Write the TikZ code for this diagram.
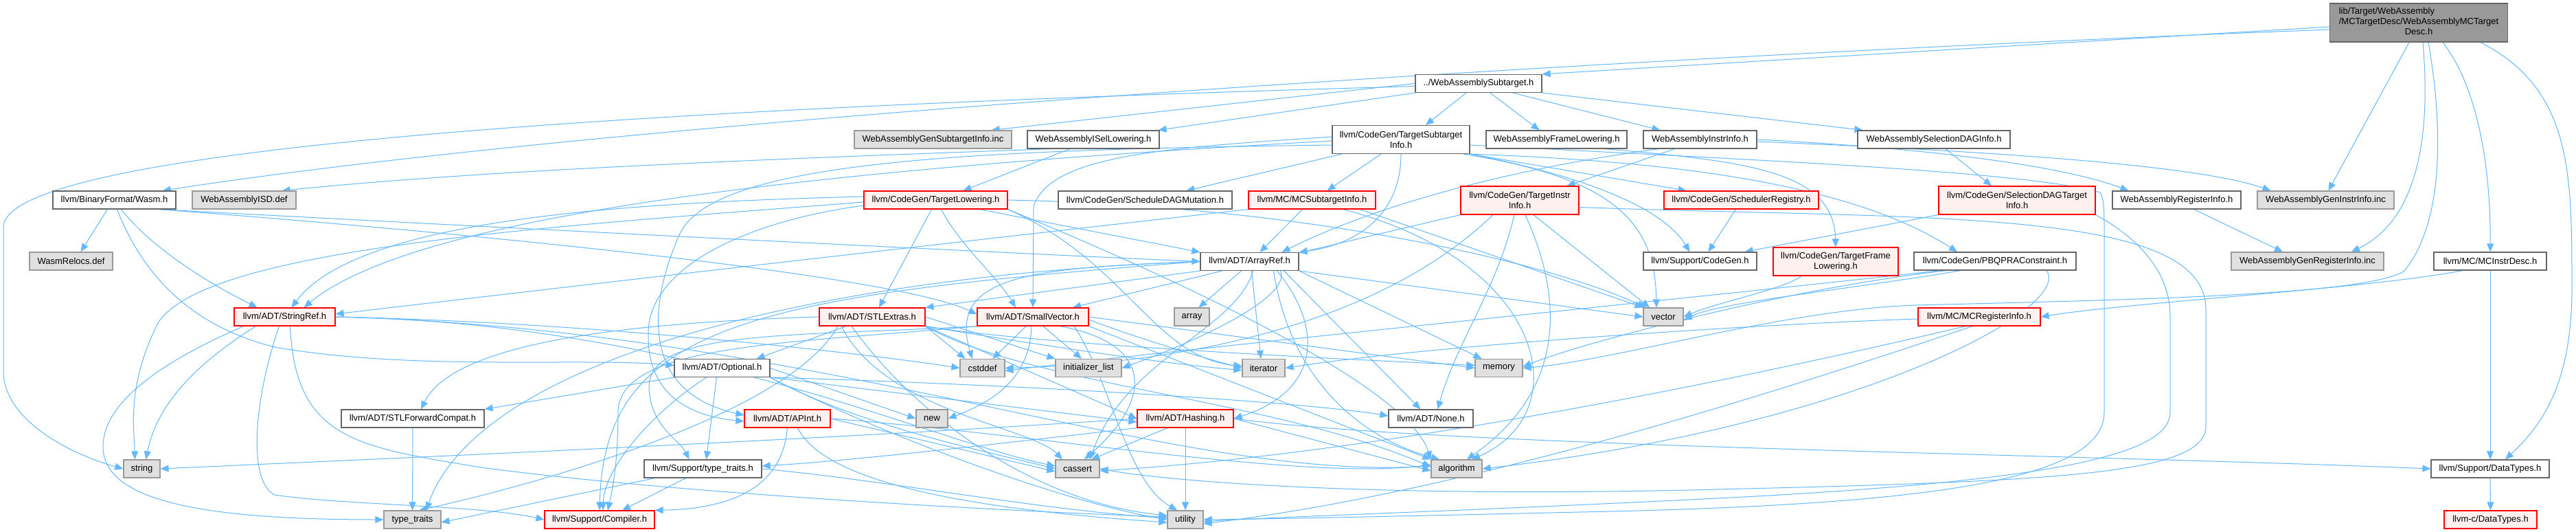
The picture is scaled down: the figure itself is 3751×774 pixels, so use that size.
\documentclass[tikz,border=0pt]{standalone}
\usepackage{fontspec}
\setmainfont{Liberation Sans}
\usetikzlibrary{arrows.meta}
\definecolor{edgec}{HTML}{63B8FF}
\definecolor{bordg}{HTML}{666666}
\definecolor{bordl}{HTML}{999999}
\definecolor{fillg}{HTML}{E0E0E0}
\definecolor{fillr}{HTML}{FFF0F0}
\definecolor{rootf}{HTML}{999999}
\newcommand\nodefont{\fontsize{13bp}{15bp}\selectfont}
\pgfdeclarelayer{bg}
\pgfdeclarelayer{paper}
\pgfsetlayers{paper,bg,main}
\tikzset{
  nb/.style={draw=bordg, fill=white, line width=1.2bp, minimum height=26bp, inner sep=0pt, font=\nodefont, align=center},
  gb/.style={nb, draw=bordl, fill=fillg},
  rb/.style={nb, draw=red, fill=fillr},
  two/.style={minimum height=41bp},
  e/.style={draw=edgec, line width=1bp, -{Triangle[length=12bp,width=10bp]}},
}
\begin{document}
\begin{tikzpicture}[x=1bp,y=-1bp]
\begin{pgfonlayer}{paper}
\fill[white] (0,0) rectangle (3751,774);
\end{pgfonlayer}
\useasboundingbox (0,0) rectangle (3751,774);
% row 0
\node[nb, fill=rootf, minimum width=259bp, minimum height=56bp] (root) at (3522,33) {\begin{tabular}{@{}l@{}}lib/Target/WebAssembly\\/MCTargetDesc/WebAssemblyMCTarget\\\multicolumn{1}{@{}c@{}}{Desc.h}\end{tabular}};
% row 1
\node[nb, minimum width=184bp] (sub) at (2153,121.5) {../WebAssemblySubtarget.h};
% row 2
\node[gb, minimum width=229bp] (gensub) at (1358.5,203) {WebAssemblyGenSubtargetInfo.inc};
\node[nb, minimum width=192bp] (isel) at (1592,203) {WebAssemblyISelLowering.h};
\node[nb, two, minimum width=200bp] (tsi) at (2040,203) {llvm/CodeGen/TargetSubtarget\\Info.h};
\node[nb, minimum width=205bp] (frame) at (2266.5,203) {WebAssemblyFrameLowering.h};
\node[nb, minimum width=165bp] (instr) at (2475.5,203) {WebAssemblyInstrInfo.h};
\node[nb, minimum width=222bp] (seldag) at (2816,203) {WebAssemblySelectionDAGInfo.h};
% row 3
\node[nb, minimum width=179bp] (wasm) at (166.5,291) {llvm/BinaryFormat/Wasm.h};
\node[gb, minimum width=151bp] (isd) at (355.5,291) {WebAssemblyISD.def};
\node[rb, minimum width=209bp] (tlow) at (1362.5,291) {llvm/CodeGen/TargetLowering.h};
\node[nb, minimum width=253bp] (sdm) at (1667.5,291) {llvm/CodeGen/ScheduleDAGMutation.h};
\node[rb, minimum width=185bp] (mcsub) at (1910.5,291) {llvm/MC/MCSubtargetInfo.h};
\node[rb, two, minimum width=172bp] (tii) at (2213,291.5) {llvm/CodeGen/TargetInstr\\Info.h};
\node[rb, minimum width=225bp] (schedreg) at (2535.5,291) {llvm/CodeGen/SchedulerRegistry.h};
\node[rb, two, minimum width=228bp] (sdti) at (2937,291.5) {llvm/CodeGen/SelectionDAGTarget\\Info.h};
\node[nb, minimum width=187bp] (reginfo) at (3169.5,291) {WebAssemblyRegisterInfo.h};
\node[gb, minimum width=199bp] (geninstr) at (3386.5,291) {WebAssemblyGenInstrInfo.inc};
% row 4
\node[gb, minimum width=121bp] (relocs) at (103.5,380) {WasmRelocs.def};
\node[nb, minimum width=143bp] (arrayref) at (1819.5,380.5) {llvm/ADT/ArrayRef.h};
\node[nb, minimum width=165bp] (codegen) at (2475.5,380) {llvm/Support/CodeGen.h};
\node[rb, two, minimum width=182bp] (tfl) at (2673,380.5) {llvm/CodeGen/TargetFrame\\Lowering.h};
\node[nb, minimum width=236bp] (pbqp) at (2905,380) {llvm/CodeGen/PBQPRAConstraint.h};
\node[gb, minimum width=222bp] (genreg) at (3360,380) {WebAssemblyGenRegisterInfo.inc};
\node[nb, minimum width=164bp] (mcid) at (3626,380) {llvm/MC/MCInstrDesc.h};
% row 5
\node[rb, minimum width=147bp] (stringref) at (414.5,461) {llvm/ADT/StringRef.h};
\node[rb, minimum width=154bp] (stlextras) at (1270,461) {llvm/ADT/STLExtras.h};
\node[rb, minimum width=162bp] (smallvec) at (1504,461) {llvm/ADT/SmallVector.h};
\node[gb, minimum width=51bp] (array) at (1735.5,461) {array};
\node[gb, minimum width=58bp] (vector) at (2422,461) {vector};
\node[rb, minimum width=178bp] (mcreg) at (2882,461) {llvm/MC/MCRegisterInfo.h};
% row 6
\node[nb, minimum width=139bp] (optional) at (1051.5,535.5) {llvm/ADT/Optional.h};
\node[gb, minimum width=65bp] (cstddef) at (1430.5,535.5) {cstddef};
\node[gb, minimum width=96bp] (initlist) at (1585,535.5) {initializer\_list};
\node[gb, minimum width=62bp] (iterator) at (1840,535.5) {iterator};
\node[gb, minimum width=69bp] (memory) at (2182.5,535.5) {memory};
% row 7
\node[nb, minimum width=208bp] (stlfwd) at (601,609) {llvm/ADT/STLForwardCompat.h};
\node[gb, minimum width=46bp] (new) at (1357,609) {new};
\node[rb, minimum width=125bp] (apint) at (1146.5,609) {llvm/ADT/APInt.h};
\node[rb, minimum width=140bp] (hashing) at (1726,609) {llvm/ADT/Hashing.h};
\node[nb, minimum width=123bp] (none) at (2083.5,609) {llvm/ADT/None.h};
% row 8
\node[gb, minimum width=53bp] (string) at (206.5,682) {string};
\node[nb, minimum width=171bp] (sttraits) at (1023.5,682) {llvm/Support/type\_traits.h};
\node[gb, minimum width=64bp] (cassert) at (1569,682) {cassert};
\node[gb, minimum width=74bp] (algorithm) at (2121,682) {algorithm};
\node[nb, minimum width=172bp] (datatypes) at (3626,682) {llvm/Support/DataTypes.h};
% row 9
\node[gb, minimum width=83bp] (typetraits) at (600.5,756) {type\_traits};
\node[rb, minimum width=160bp] (compiler) at (873,756) {llvm/Support/Compiler.h};
\node[gb, minimum width=52bp] (utility) at (1726,756) {utility};
\node[rb, minimum width=135bp] (cdatatypes) at (3626.5,756) {llvm-c/DataTypes.h};

\begin{pgfonlayer}{bg}
% root
\draw[e] ([yshift=-6bp]root.west) -- (sub.north east);
\draw[e] ([yshift=-10bp]root.west) .. controls (2300,85) and (900,175) .. ([xshift=-20bp]wasm.north east);
\draw[e] ([xshift=-14bp]root.south) -- ([xshift=4bp]geninstr.north);
\draw[e] ([xshift=6bp]root.south) .. controls (3540,200) and (3520,320) .. (genreg.12);
\draw[e] ([xshift=14bp]root.south) .. controls (3560,200) and (3555,330) .. (3500,395) .. controls (3440,430) and (3100,436) .. (2790,444) .. controls (2600,450) and (2350,525) .. (memory.east);
\draw[e] ([xshift=35bp]root.south) .. controls (3610,130) and (3627,250) .. (mcid.north);
\draw[e] ([xshift=90bp]root.south) .. controls (3745,130) and (3745,250) .. (3745,420) .. controls (3745,560) and (3700,620) .. ([xshift=22bp]datatypes.north);
% subtarget
\draw[e] (sub.west) -- ([xshift=-30bp]gensub.north east);
\draw[e] (sub.south west) -- ([xshift=-2bp]isel.north east);
\draw[e] ([xshift=-18bp]sub.south) -- ([xshift=36bp]tsi.north);
\draw[e] ([xshift=17bp]sub.south) -- ([xshift=-25bp]frame.north);
\draw[e] ([xshift=50bp]sub.south) -- ([xshift=-58bp]instr.north);
\draw[e] (sub.south east) -- ([xshift=8bp]seldag.north west);
\draw[e] ([yshift=-4bp]sub.west) .. controls (1200,150) and (10,200) .. (5,330) -- (5,540) .. controls (5,610) and (100,660) .. (string.west);
% isel
\draw[e] ([xshift=-60bp]isel.south) .. controls (1100,232) and (700,248) .. ([xshift=55bp]isd.north);
\draw[e] ([xshift=-34bp]isel.south) -- ([xshift=40bp]tlow.north);
% tsi
\draw[e] ([xshift=-86bp]tsi.south) -- ([xshift=60bp]sdm.north);
\draw[e] ([xshift=-29bp]tsi.south) -- ([xshift=22bp]mcsub.north);
\draw[e] (tsi.south) .. controls (2040,310) and (1980,355) .. (arrayref.north east);
\draw[e] ([yshift=4bp]tsi.west) .. controls (1700,215) and (1530,225) .. (1505,300) -- (smallvec.north);
\draw[e] ([yshift=-2bp]tsi.west) .. controls (1300,240) and (620,300) .. ([xshift=28bp]stringref.north);
\draw[e] (tsi.south east) -- ([xshift=-80bp]schedreg.north);
\draw[e] (tsi.south east) .. controls (2300,255) and (2420,300) .. ([xshift=-15bp]codegen.north);
\draw[e] (tsi.south east) .. controls (2450,235) and (2700,270) .. ([xshift=-55bp]pbqp.north);
\draw[e] ([yshift=-8bp]tsi.west) .. controls (1400,218) and (1040,235) .. (990,340) .. controls (945,440) and (930,570) .. ([yshift=5bp]apint.west);
\draw[e] ([xshift=-10bp]tsi.south east) .. controls (2360,260) and (2410,330) .. ([xshift=-10bp]vector.north);
\draw[e] ([yshift=-8bp]tsi.east) .. controls (2600,235) and (2950,250) .. (3058,280) .. controls (3064,290) and (3064,305) .. (3064,340) -- (3064,600) .. controls (3064,700) and (2800,735) .. (2300,745) .. controls (2000,752) and (1850,755) .. (utility.east);
% frame / instr / seldag / reginfo
\draw[e] ([xshift=70bp]frame.south) .. controls (2550,235) and (2670,250) .. (tfl.north);
\draw[e] ([xshift=-37bp]instr.south) -- ([xshift=-18bp]tii.north east);
\draw[e] ([xshift=-60bp]instr.south) .. controls (2200,245) and (2000,300) .. ([xshift=-25bp]arrayref.north east);
\draw[e] (instr.east) .. controls (2800,215) and (3000,240) .. ([xshift=-70bp]reginfo.north);
\draw[e] ([yshift=-3bp]instr.east) .. controls (2900,220) and (3200,240) .. ([xshift=-80bp]geninstr.north);
\draw[e] ([xshift=17bp]seldag.south) -- ([xshift=-37bp]sdti.north);
\draw[e] ([xshift=25bp]reginfo.south) -- ([xshift=-36bp]genreg.north);
% sdti, schedreg
\draw[e] (sdti.south west) -- ([xshift=-18bp]codegen.north east);
\draw[e] (sdti.south east) .. controls (3120,350) and (3160,400) .. (3160,460) -- (3160,600) .. controls (3160,660) and (3000,700) .. (2500,725) .. controls (2100,745) and (1850,752) .. ([yshift=-3bp]utility.east);
\draw[e] ([xshift=-8bp]schedreg.south) -- ([xshift=12bp]codegen.north);
% tii
\draw[e] (tii.south west) -- (arrayref.10);
\draw[e] ([xshift=-8bp]tii.south) .. controls (2180,420) and (2120,500) .. ([xshift=10bp]none.north);
\draw[e] ([xshift=8bp]tii.south) .. controls (2270,420) and (2290,560) .. ([xshift=15bp]algorithm.north);
\draw[e] ([xshift=20bp]tii.south) -- ([xshift=-20bp]vector.north);
\draw[e] ([xshift=-39bp]tii.south) .. controls (2000,480) and (1700,530) .. (cstddef.east);
\draw[e] ([yshift=-10bp]tii.east) .. controls (2800,320) and (3212,300) .. (3212,450) -- (3212,620) .. controls (3212,690) and (3000,700) .. (2500,712) .. controls (2000,725) and (1700,700) .. (cassert.east);
% mcsub
\draw[e] ([xshift=-14bp]mcsub.south) -- ([xshift=15bp]arrayref.north);
\draw[e] (mcsub.south west) .. controls (1500,340) and (800,420) .. ([yshift=4bp]stringref.east);
\draw[e] ([xshift=45bp]mcsub.south) .. controls (2250,380) and (2300,600) .. ([xshift=22bp]algorithm.north);
\draw[e] ([xshift=70bp]mcsub.south) -- (vector.north west);
% tlow
\draw[e] ([xshift=64bp]tlow.south) -- (arrayref.north west);
\draw[e] ([xshift=-6bp]tlow.south) -- ([xshift=10bp]stlextras.north);
\draw[e] ([xshift=8bp]tlow.south) .. controls (1400,360) and (1450,400) .. ([xshift=-25bp]smallvec.north);
\draw[e] ([yshift=5bp]tlow.west) .. controls (900,295) and (520,320) .. ([xshift=10bp]stringref.north);
\draw[e] ([yshift=-3bp]tlow.west) .. controls (800,330) and (300,360) .. (230,470) .. controls (185,560) and (195,620) .. ([xshift=-10bp]string.north);
\draw[e] ([yshift=-8bp]tlow.west) .. controls (1100,320) and (960,380) .. (945,470) .. controls (935,570) and (1000,605) .. ([yshift=-4bp]apint.west);
\draw[e] (tlow.south east) .. controls (1640,380) and (1680,520) .. ([yshift=3bp]iterator.west);
\draw[e] (tlow.east) .. controls (1900,300) and (2250,380) .. ([xshift=4bp]vector.north west);
\draw[e] (tlow.south east) .. controls (1700,400) and (2050,560) .. (algorithm.north west);
% wasm
\draw[e] ([xshift=-10bp]wasm.south) -- ([xshift=14bp]relocs.north);
\draw[e] ([xshift=4bp]wasm.south) .. controls (200,380) and (260,470) .. (400,505) .. controls (600,540) and (850,520) .. ([yshift=4bp]optional.west);
\draw[e] ([xshift=10bp]wasm.south) .. controls (220,360) and (300,410) .. ([xshift=-40bp]stringref.north);
\draw[e] ([xshift=-25bp]wasm.south east) .. controls (700,330) and (1500,370) .. (arrayref.west);
\draw[e] ([xshift=-25bp]wasm.south east) .. controls (700,340) and (1300,400) .. ([yshift=4bp]smallvec.west);
% stringref
\draw[e] ([xshift=-42bp]stringref.south) .. controls (300,520) and (230,580) .. ([xshift=6bp]string.north);
\draw[e] ([xshift=-60bp]stringref.south) .. controls (250,520) and (150,580) .. (150,650) .. controls (150,730) and (300,756) .. (typetraits.west);
\draw[e] ([xshift=-8bp]stringref.south) .. controls (370,580) and (360,700) .. (400,720) .. controls (500,735) and (700,735) .. (compiler.west);
\draw[e] (stringref.east) .. controls (900,470) and (1300,520) .. (cstddef.west);
\draw[e] (stringref.east) .. controls (1000,470) and (1350,640) .. ([yshift=4bp]cassert.west);
\draw[e] (stringref.east) .. controls (1200,480) and (1700,700) .. ([yshift=4bp]algorithm.west);
\draw[e] ([xshift=8bp]stringref.south) .. controls (430,640) and (520,650) .. (700,680) .. controls (1000,720) and (1500,745) .. ([yshift=4bp]utility.west);
% stlextras
\draw[e] ([xshift=-38bp]stlextras.south) -- ([xshift=-20bp]optional.north east);
\draw[e] (stlextras.west) .. controls (900,470) and (660,500) .. ([xshift=12bp]stlfwd.north);
\draw[e] (stlextras.south east) -- ([xshift=-25bp]cstddef.north);
\draw[e] (stlextras.east) -- (initlist.north west);
\draw[e] (stlextras.south east) .. controls (1500,500) and (1700,530) .. ([yshift=-3bp]iterator.west);
\draw[e] (stlextras.south east) -- (hashing.west);
\draw[e] ([xshift=-45bp]stlextras.south) .. controls (1290,600) and (1500,620) .. ([xshift=-22bp]cassert.north);
\draw[e] ([xshift=-30bp]stlextras.south) .. controls (1330,600) and (1500,730) .. ([yshift=6bp]utility.west);
\draw[e] ([xshift=-50bp]stlextras.south) .. controls (1150,600) and (800,700) .. ([xshift=10bp]typetraits.north);
\draw[e] (stlextras.south east) .. controls (1500,560) and (1850,580) .. ([yshift=3bp]algorithm.west);
\draw[e] (stlextras.south east) .. controls (1500,500) and (1900,520) .. ([yshift=4bp]memory.west);
% smallvec
\draw[e] (smallvec.south west) .. controls (1150,490) and (950,480) .. (945,560) .. controls (945,620) and (990,640) .. ([xshift=-20bp]sttraits.north);
\draw[e] (smallvec.south west) .. controls (1150,500) and (900,500) .. (900,600) .. controls (900,680) and (890,720) .. ([xshift=12bp]compiler.north);
\draw[e] ([xshift=-10bp]smallvec.south) -- ([xshift=15bp]cstddef.north);
\draw[e] ([xshift=15bp]smallvec.south) -- ([xshift=-10bp]initlist.north);
\draw[e] ([xshift=-2bp]smallvec.south) .. controls (1500,560) and (1430,590) .. (new.east);
\draw[e] ([xshift=40bp]smallvec.south) .. controls (1680,500) and (1680,580) .. ([xshift=10bp]cassert.north);
\draw[e] ([yshift=-4bp]smallvec.east) .. controls (1650,490) and (1750,520) .. (iterator.west);
\draw[e] (smallvec.east) -- (memory.west);
\draw[e] (smallvec.south east) -- (algorithm.north west);
\draw[e] ([xshift=60bp]smallvec.south) .. controls (1620,560) and (1640,700) .. ([xshift=-12bp]utility.north);
% optional
\draw[e] (optional.south west) -- (stlfwd.north east);
\draw[e] ([xshift=-23bp]optional.south) .. controls (950,600) and (880,680) .. ([xshift=5bp]compiler.north);
\draw[e] ([xshift=-8bp]optional.south) -- ([xshift=5bp]sttraits.north);
\draw[e] (optional.east) -- (new.west);
\draw[e] (optional.south east) .. controls (1500,560) and (1900,585) .. ([yshift=4bp]none.west);
\draw[e] (optional.south east) -- ([yshift=-5bp]hashing.west);
\draw[e] (optional.south east) .. controls (1250,620) and (1450,660) .. (cassert.west);
\draw[e] (optional.south east) .. controls (1300,640) and (1550,730) .. (utility.west);
% apint
\draw[e] (apint.south) .. controls (1140,700) and (1080,740) .. (compiler.north east);
\draw[e] (apint.east) -- ([yshift=-4bp]cassert.west);
\draw[e] ([xshift=15bp]apint.south) .. controls (1200,700) and (1400,740) .. ([yshift=-4bp]utility.west);
\draw[e] (apint.east) .. controls (1500,630) and (1900,700) .. ([yshift=6bp]algorithm.west);
% hashing
\draw[e] ([xshift=-26bp]hashing.south) -- ([xshift=20bp]cassert.north);
\draw[e] (hashing.south) -- (utility.north);
\draw[e] (hashing.west) .. controls (1200,640) and (500,670) .. (string.east);
\draw[e] (hashing.east) -- ([yshift=-3bp]algorithm.west);
\draw[e] (hashing.east) .. controls (2100,650) and (3000,660) .. (datatypes.west);
\draw[e] (hashing.south west) .. controls (1500,640) and (1250,670) .. ([yshift=4bp]sttraits.east);
% sttraits, stlfwd
\draw[e] ([xshift=-70bp]sttraits.south) -- ([yshift=-4bp]typetraits.east);
\draw[e] ([xshift=-25bp]sttraits.south) -- ([xshift=33bp]compiler.north);
\draw[e] (sttraits.east) .. controls (1300,700) and (1500,740) .. ([yshift=2bp]utility.west);
\draw[e] (stlfwd.south) -- (typetraits.north);
% arrayref
\draw[e] ([xshift=40bp]arrayref.south) .. controls (1930,480) and (1920,570) .. (hashing.east);
\draw[e] ([xshift=50bp]arrayref.south) -- ([xshift=-15bp]none.north);
\draw[e] ([xshift=-40bp]arrayref.south) -- ([xshift=58bp]smallvec.north);
\draw[e] (arrayref.south west) -- (stlextras.north east);
\draw[e] (arrayref.west) .. controls (1100,430) and (880,470) .. (compiler.north);
\draw[e] ([xshift=35bp]arrayref.south) .. controls (1880,560) and (1990,640) .. ([xshift=-25bp]algorithm.north);
\draw[e] ([xshift=-12bp]arrayref.south) -- ([xshift=10bp]array.north);
\draw[e] ([xshift=5bp]arrayref.south) .. controls (1800,480) and (1640,520) .. ([xshift=18bp]cassert.north);
\draw[e] (arrayref.west) .. controls (1500,390) and (1380,400) .. ([xshift=-15bp]cstddef.north);
\draw[e] ([xshift=45bp]arrayref.south) .. controls (1880,430) and (1760,490) .. (initlist.east);
\draw[e] ([xshift=3bp]arrayref.south) -- ([xshift=-4bp]iterator.north);
\draw[e] (arrayref.south east) -- ([xshift=-25bp]memory.north);
\draw[e] (arrayref.west) .. controls (1200,400) and (700,520) .. ([xshift=20bp]typetraits.north);
\draw[e] (arrayref.south east) -- (vector.west);
% mcid, mcreg
\draw[e] ([xshift=-40bp]mcid.south) .. controls (3450,420) and (3100,440) .. (mcreg.east);
\draw[e] (mcid.south) -- (datatypes.north);
\draw[e] ([yshift=-3bp]mcreg.west) .. controls (2600,470) and (2100,500) .. (iterator.east);
\draw[e] ([xshift=-20bp]mcreg.south) .. controls (2500,560) and (2000,660) .. ([yshift=-3bp]cassert.east);
\draw[e] ([xshift=-10bp]mcreg.south) .. controls (2500,600) and (2100,720) .. ([yshift=-6bp]utility.east);
% pbqp, tfl
\draw[e] ([xshift=-70bp]pbqp.south) .. controls (2600,420) and (2300,500) .. ([yshift=2bp]memory.east);
\draw[e] ([xshift=-50bp]pbqp.south) .. controls (2700,420) and (2500,440) .. ([yshift=-5bp]vector.east);
\draw[e] ([xshift=-80bp]pbqp.south) .. controls (2500,430) and (1700,510) .. ([yshift=-4bp]cstddef.east);
\draw[e] ([xshift=75bp]pbqp.south) .. controls (3020,450) and (2700,620) .. (algorithm.east);
\draw[e] ([xshift=-50bp]tfl.south) .. controls (2600,420) and (2500,440) .. (vector.east);
% datatypes
\draw[e] (datatypes.south) -- (cdatatypes.north);
\end{pgfonlayer}
\end{tikzpicture}
\end{document}
